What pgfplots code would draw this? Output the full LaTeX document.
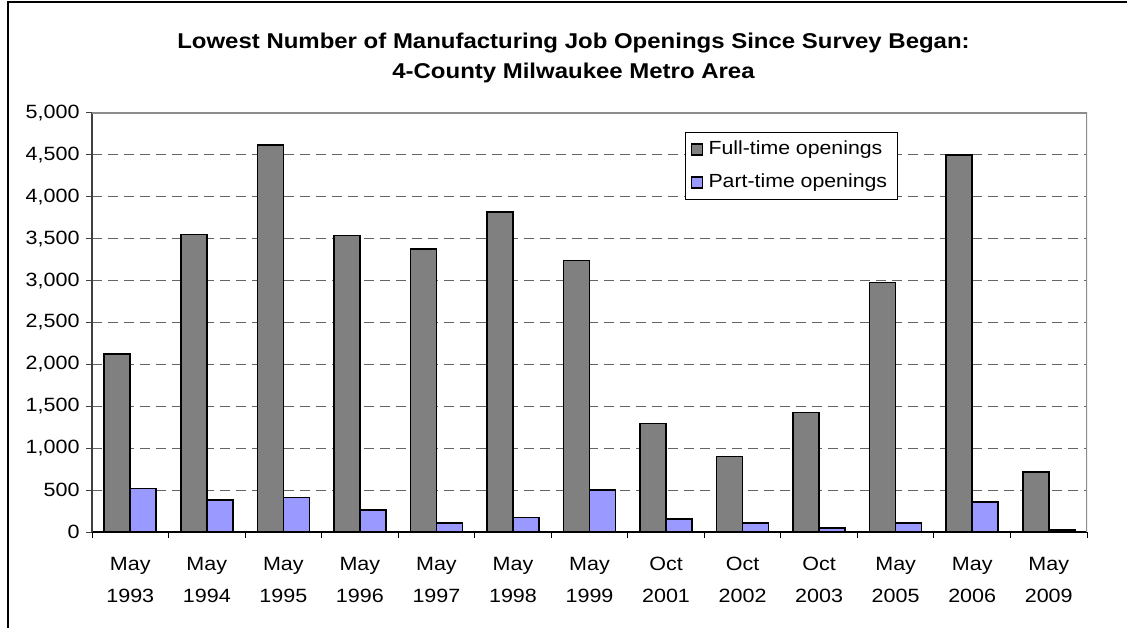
\documentclass[border=0pt]{standalone}
\usepackage{fontspec}
\setmainfont{Liberation Sans}[FakeStretch=1.12]
\usepackage{pgfplots}
\pgfplotsset{compat=1.18}
\definecolor{ftgray}{RGB}{128,128,128}
\definecolor{ptblue}{RGB}{153,153,255}
\definecolor{gridgray}{RGB}{100,100,100}
\definecolor{axgray}{RGB}{64,64,64}
\definecolor{bordergray}{RGB}{140,140,140}
\begin{document}
\begin{tikzpicture}
\useasboundingbox (0,0) rectangle (1127bp,628bp);
\fill[white] (0,0) rectangle (1127bp,628bp);
\draw[black, line width=1.5bp] (8bp,-5bp) -- (8bp,626.2bp) -- (1135bp,626.2bp);
\node[anchor=base, font=\fontsize{21.4bp}{26bp}\selectfont\bfseries] at (573.5bp,579bp) {Lowest Number of Manufacturing Job Openings Since Survey Began:};
\node[anchor=base, font=\fontsize{21.4bp}{26bp}\selectfont\bfseries] at (573.5bp,549bp) {4-County Milwaukee Metro Area};
\begin{axis}[
  at={(92bp,96bp)}, anchor=south west,
  scale only axis, width=995bp, height=419bp,
  xmin=-0.5, xmax=12.5, ymin=0, ymax=5000,
  ybar=0pt, bar width=26bp,
  axis x line*=bottom, axis y line*=left,
  x axis line style={black, line width=1.2bp, -},
  y axis line style={axgray, line width=1.5bp, -},
  xtick={0,...,12},
  xticklabels={{May\\1993},{May\\1994},{May\\1995},{May\\1996},{May\\1997},{May\\1998},{May\\1999},{Oct\\2001},{Oct\\2002},{Oct\\2003},{May\\2005},{May\\2006},{May\\2009}},
  minor xtick={-0.5,0.5,...,12.5},
  major x tick style={draw=none},
  minor x tick style={black, line width=1bp},
  ytick={0,500,...,5000},
  ytick style={axgray, line width=1bp},
  major tick length=6bp, minor tick length=6bp,
  tick align=outside,
  ymajorgrids,
  major grid style={gridgray, line width=1bp, dash pattern=on 10bp off 6bp},
  /pgf/number format/assume math mode=true,
  /pgf/number format/1000 sep={,},
  scaled y ticks=false,
  tick label style={font=\fontsize{19.2bp}{32bp}\selectfont},
  xticklabel style={align=center, yshift=-16bp},
  yticklabel style={xshift=-3bp},
  legend style={at={(0.596,0.955)}, anchor=north west, draw=black, line width=1bp,
    inner sep=5bp, row sep=9bp,
    font=\fontsize{19bp}{22bp}\selectfont,
    nodes={text height=14bp, text depth=4bp, inner ysep=3bp, inner xsep=5.5bp}},
  legend cell align=left,
  legend image code/.code={\draw[#1, line width=1.5bp] (0bp,-5.5bp) rectangle (11bp,5.5bp);},
]
\addplot[fill=ftgray, draw=black, line width=1.6bp] coordinates {
 (0,2125) (1,3550) (2,4615) (3,3540) (4,3375) (5,3820) (6,3240)
 (7,1295) (8,900) (9,1425) (10,2975) (11,4500) (12,715)};
\addplot[fill=ptblue, draw=black, line width=1.6bp] coordinates {
 (0,520) (1,385) (2,410) (3,260) (4,105) (5,175) (6,500)
 (7,155) (8,105) (9,50) (10,105) (11,355) (12,25)};
\legend{Full-time openings, Part-time openings}
\draw[bordergray, line width=2bp] (rel axis cs:0,1) -- (rel axis cs:1,1) -- (rel axis cs:1,0);
\end{axis}
\end{tikzpicture}
\end{document}
